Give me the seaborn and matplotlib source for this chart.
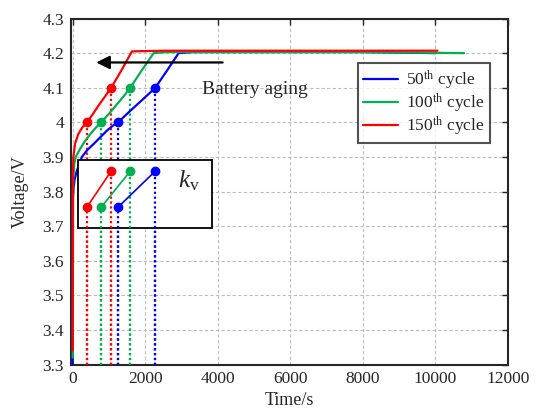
import numpy as np
import pandas as pd
import matplotlib
matplotlib.use("Agg")
import matplotlib.pyplot as plt
from matplotlib.patches import Rectangle
import seaborn as sns

# Charging curves (time in s, voltage in V)
t_50 = [0, 5, 20, 50, 110, 250, 400, 570, 760, 940, 1100, 1250, 1500, 1760, 2020, 2275, 2600, 2917, 3300, 5000, 8000, 10000]
v_50 = [3.30, 3.78, 3.81, 3.835, 3.86, 3.90, 3.92, 3.937, 3.957, 3.976, 3.99, 4.00, 4.025, 4.05, 4.075, 4.10, 4.15, 4.20, 4.203, 4.203, 4.203, 4.20]

t_100 = [0, 5, 15, 40, 80, 200, 330, 480, 630, 785, 1000, 1200, 1400, 1585, 1900, 2229, 2600, 5000, 8000, 10790]
v_100 = [3.32, 3.80, 3.84, 3.88, 3.90, 3.923, 3.945, 3.966, 3.984, 4.00, 4.025, 4.05, 4.075, 4.10, 4.15, 4.20, 4.203, 4.203, 4.203, 4.20]

t_150 = [0, 3, 15, 60, 150, 260, 390, 560, 720, 890, 1058, 1340, 1630, 2500, 5000, 8000, 10055]
v_150 = [3.34, 3.85, 3.90, 3.937, 3.966, 3.985, 4.00, 4.025, 4.05, 4.075, 4.10, 4.15, 4.205, 4.207, 4.207, 4.207, 4.207]

# times where each curve hits 4.0 V and 4.1 V
t_at_4_0 = [1250, 785, 390]
t_at_4_1 = [2275, 1585, 1058]

labels = ["50$^{\\mathrm{th}}$ cycle", "100$^{\\mathrm{th}}$ cycle", "150$^{\\mathrm{th}}$ cycle"]
colors = ["#0000FF", "#00B050", "#FF0000"]

y_ticks = [3.3, 3.4, 3.5, 3.6, 3.7, 3.8, 3.9, 4.0, 4.1, 4.2, 4.3]
y_ticklabels = ["3.3", "3.4", "3.5", "3.6", "3.7", "3.8", "3.9", "4", "4.1", "4.2", "4.3"]
x_ticks = [0, 2000, 4000, 6000, 8000, 10000, 12000]

sns.set_theme(style="white")
plt.rcParams['font.family'] = ['Liberation Serif', 'DejaVu Serif']
plt.rcParams['mathtext.fontset'] = 'custom'
plt.rcParams['mathtext.rm'] = 'Liberation Serif'
plt.rcParams['mathtext.it'] = 'Liberation Serif:italic'

fig = plt.figure(figsize=(5.37, 4.08), dpi=100)
ax = fig.add_axes([0.1322, 0.1066, 0.8138, 0.848])

curves = [(t_50, v_50), (t_100, v_100), (t_150, v_150)]
for (t, v), c, lab, z in zip(curves, colors, labels, [3, 3.1, 3.2]):
    df = pd.DataFrame({"t": t, "v": v})
    sns.lineplot(data=df, x="t", y="v", sort=False, estimator=None, color=c,
                 linewidth=1.6, label=lab, ax=ax, zorder=z)

dot = dict(ls=(0, (1, 1.2)), lw=1.6)

# dotted drop lines from the 4.0 V / 4.1 V points
for c, ta, tb in zip(colors, t_at_4_0, t_at_4_1):
    ax.plot([ta, ta], [3.3, 4.0], color=c, zorder=2, **dot)
    ax.plot([tb, tb], [3.3, 4.1], color=c, zorder=2, **dot)
    ax.plot([ta, tb], [4.0, 4.1], ls='none', marker='o', ms=6, color=c, zorder=4)

# k_v inset box
ax.add_patch(Rectangle((155, 3.694), 3685, 0.197, facecolor='white',
                       edgecolor='black', lw=1.3, zorder=5))
for c, ta, tb in zip(colors, t_at_4_0, t_at_4_1):
    ax.plot([ta, ta], [3.3, 3.755], color=c, zorder=6, **dot)
    ax.plot([tb, tb], [3.3, 3.859], color=c, zorder=6, **dot)
    ax.plot([ta, tb], [3.755, 3.859], ls='-', marker='o', ms=6, lw=1.2, color=c, zorder=7)
ax.text(3190, 3.83, "$k_{\\mathrm{v}}$", fontsize=18, ha='center', va='center', zorder=8)

# aging arrow
ax.annotate("", xy=(569, 4.173), xytext=(4207, 4.173),
            arrowprops=dict(arrowstyle='-|>', color='black', lw=1.6, mutation_scale=20),
            zorder=8)
ax.text(3563, 4.096, "Battery aging", fontsize=14, ha='left', va='center')

ax.set_xlim(-50, 12000)
ax.set_ylim(3.3, 4.3)
ax.set_xticks(x_ticks)
ax.set_xticklabels([str(x) for x in x_ticks])
ax.set_yticks(y_ticks)
ax.set_yticklabels(y_ticklabels)
ax.tick_params(direction='in', length=4, width=1, top=True, right=True,
               labelsize=12.5, colors='#262626', labelcolor='#262626', pad=5)
ax.grid(True, ls=(0, (3, 2)), color='#BDBDBD', lw=0.8)
ax.set_axisbelow(True)
for s in ax.spines.values():
    s.set_color('#262626')
    s.set_linewidth(1.5)
ax.set_xlabel("Time/s", fontsize=13, labelpad=3)
ax.set_ylabel("Voltage/V", fontsize=13, labelpad=10)

leg = ax.legend(loc='upper right', bbox_to_anchor=(0.959, 0.871), borderaxespad=0,
                fontsize=12.5, frameon=True, fancybox=False, handlelength=2.0,
                labelspacing=0.0, borderpad=0.3, handletextpad=0.5)
leg.get_frame().set_edgecolor('#262626')
leg.get_frame().set_linewidth(1.5)
leg.set_zorder(10)

fig.savefig("out.png", dpi=100)
